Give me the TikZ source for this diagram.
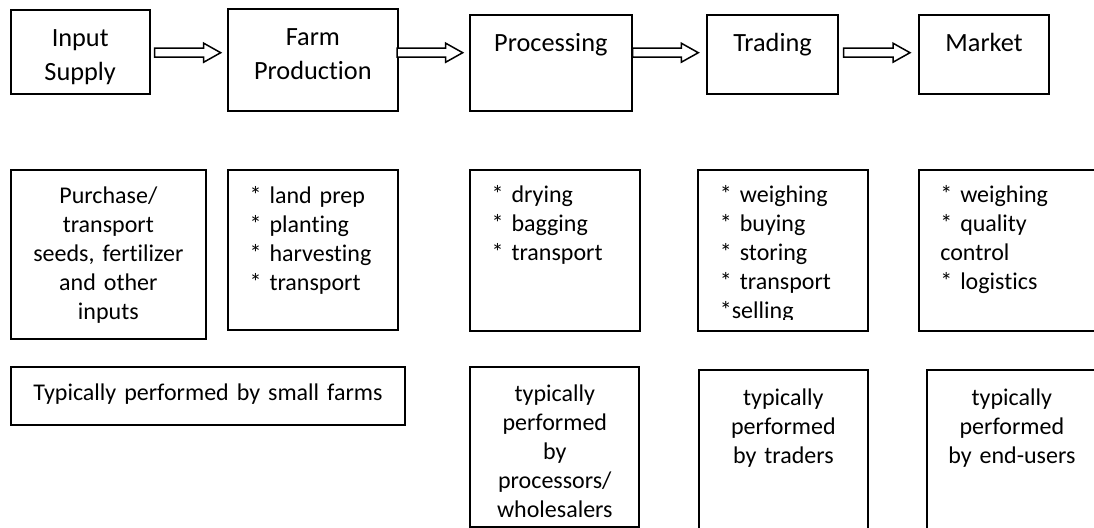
\documentclass[tikz,border=0pt]{standalone}
\usepackage{fontspec}
\setmainfont{Carlito}[Ligatures=NoCommon,WordSpace=0.75]
\usepackage{trimclip}
\usepackage{tikz}
\usetikzlibrary{calc}
\newcommand{\headfont}{\fontsize{13.15}{17.2}\selectfont}
\newcommand{\bodyfont}{\fontsize{12}{14.5}\selectfont}
\newcommand{\cutline}[2]{\clipbox{0pt 0pt 0pt 0pt}{\raisebox{0pt}[12pt][#1]{#2}}}
\tikzset{
  nd_head/.style={rectangle,draw,line width=1pt,inner sep=0pt,anchor=north west,align=center,font=\headfont},
  nd_list/.style={rectangle,draw,line width=1pt,inner ysep=0pt,inner xsep=10.8pt,anchor=north west,align=left,font=\bodyfont},
  nd_note/.style={rectangle,draw,line width=1pt,inner sep=0pt,anchor=north west,align=center,font=\bodyfont},
  arr_blk/.style={draw,fill=white,line width=0.75pt},
}
\newcommand{\blkarrow}[4]{%
  \draw[arr_blk]($(#1.east|-arrY)+(#3,-4.5)$)--($(#2.west|-arrY)+(-#4-17,-4.5)$)--++(0,-5)
    --($(#2.west|-arrY)+(-#4,0)$)--++(-17,9.5)--++(0,-5)--($(#1.east|-arrY)+(#3,4.5)$)--cycle;}

\begin{document}
\begin{tikzpicture}[x=0.5pt,y=-0.5pt]
\useasboundingbox (0,0) rectangle (1094,527);
\clip (0,0) rectangle (1094,527);
% chain
\node[nd_head,text width=69.5pt,text height=18pt,text depth=23.85pt] at (9.7,9)(A1){Input\\Supply};
\node[nd_head,text width=84.85pt,text height=18pt,text depth=32.85pt] at (227,8.3)(B1){Farm\\Production};
\node[nd_head,text width=80.85pt,text height=18.15pt,text depth=29.85pt] at (469,14)(C1){Processing};
\node[nd_head,text width=65.5pt,text height=18.15pt,text depth=21.2pt] at (706,14)(D1){Trading};
\node[nd_head,text width=65.3pt,text height=18.15pt,text depth=21.2pt] at (917.7,14)(E1){Market};
% activities
\node[nd_note,text width=97.65pt,text height=16.8pt,text depth=67.7pt] at (9.7,168.7)(A2){Purchase/\\transport\\seeds, fertilizer\\and other\\inputs};
\node[nd_list,text width=63.4pt,text height=16.65pt,text depth=63.65pt] at (227,168.7)(B2){{*} land prep\\{*} planting\\{*} harvesting\\{*} transport};
\node[nd_list,text width=63.25pt,text height=16pt,text depth=64.5pt] at (469,169)(C2){{*} drying\\{*} bagging\\{*} transport};
\node[nd_list,text width=63.25pt,text height=16pt,text depth=64.5pt] at (697.3,169)(D2){{*} weighing\\{*} buying\\{*} storing\\{*} transport\\\cutline{0.6pt}{*selling}};
\node[nd_list,text width=68.05pt,text height=16pt,text depth=64.5pt] at (917.7,169)(E2){{*} weighing\\{*} quality\\control\\{*} logistics};
% actors
\node[nd_note,text width=197.3pt,text height=16.8pt,text depth=12.5pt] at (9.7,365.7)(A3){Typically performed by small farms};
\node[nd_note,text width=84.5pt,text height=17.15pt,text depth=62.85pt] at (469.3,365.7)(C3){typically\\performed\\by\\processors/\\\cutline{-0.8pt}{wholesalers}};
\node[nd_note,text width=84.65pt,text height=17.35pt,text depth=68pt] at (697.7,369.3)(D3){typically\\performed\\by traders};
\node[nd_note,text width=85.15pt,text height=17.35pt,text depth=68pt] at (925.7,369.3)(E3){typically\\performed\\by end-users};
% arrows
\coordinate (arrY) at (0,52.7);
\blkarrow{A1}{B1}{4}{6.3}
\blkarrow{B1}{C1}{-1.5}{6.3}
\blkarrow{C1}{D1}{0}{7.7}
\blkarrow{D1}{E1}{4.7}{7.7}
\end{tikzpicture}
\end{document}
